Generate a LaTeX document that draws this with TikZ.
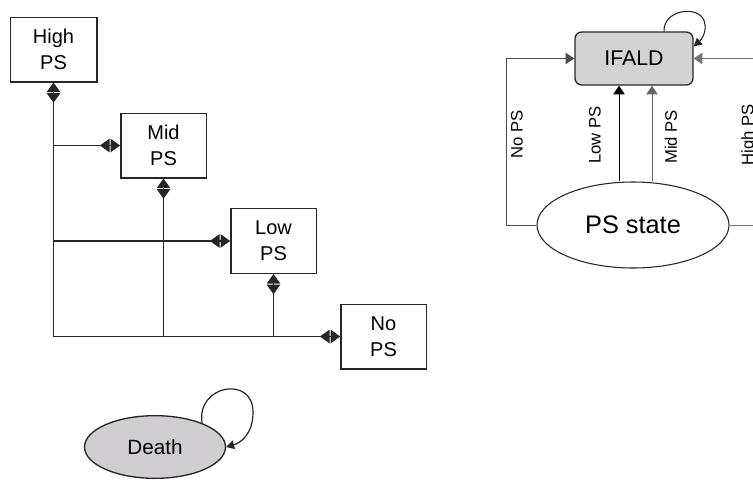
\documentclass[tikz,border=0pt]{standalone}
\usepackage{fontspec}
\setmainfont{Liberation Sans}
\usetikzlibrary{arrows.meta,shapes.geometric,calc}
\definecolor{boxgray}{HTML}{D3D3D3}
\definecolor{deathgray}{HTML}{D0CED0}
\begin{document}
\begin{tikzpicture}[x=0.75pt,y=-0.75pt,
  box/.style={draw=black!85,line width=1pt,fill=white,minimum width=64pt,minimum height=48.5pt,
    inner sep=0pt,align=center,font=\fontsize{15}{19.5}\selectfont},
  dbl/.style={draw=black!85,line width=1pt,
    -{Triangle[reversed,length=7.2pt,width=10pt,sep=0.8pt]Triangle[length=7.2pt,width=10pt]}},
  loopline/.style={draw=black!85,line width=0.9pt,-{Triangle[length=6pt,width=6.5pt]}},
  rline/.style={draw=black!70,line width=0.6pt},
  rarrow/.style={-{Triangle[length=6.5pt,width=8.5pt]}},
  lab/.style={rotate=90,font=\fontsize{12.5}{14}\selectfont,inner sep=0pt}]
\useasboundingbox (0,0) rectangle (753,479);
\clip (0,0) rectangle (753,479);

% ---------- left diagram ----------
\node[box,minimum width=65pt] (high) at (53.5,49.5) {High\\PS};
\node[box] (mid) at (163.5,145.5) {Mid\\PS};
\node[box] (low) at (273.5,241) {Low\\PS};
\node[box] (no) at (383.5,336.5) {No\\PS};

\draw[dbl] (high.south |- no.west) -- (high.south);
\draw[dbl] (high.south |- mid.west) -- (mid.west);
\draw[dbl] (high.south |- low.west) -- (low.west);
\draw[dbl] (high.south |- no.west) -- (no.west);
\draw[dbl] (mid.south |- no.west) -- (mid.south);
\draw[dbl] (low.south |- no.west) -- (low.south);

% Death
\node[ellipse,draw=black!85,line width=1pt,fill=deathgray,minimum width=105.75pt,minimum height=47pt,
  inner sep=0pt,font=\fontsize{15.5}{18}\selectfont] (death) at (155,447) {Death};
\draw[loopline] (death.27) .. controls (196,385) and (253,375) .. (253,412)
  .. controls (253,435) and (240,443) .. (death.east);

% ---------- right diagram ----------
\node[draw=black!85,line width=1pt,fill=boxgray,rounded corners=5pt,minimum width=88.5pt,
  minimum height=39.75pt,inner sep=0pt,font=\fontsize{16}{18}\selectfont] (ifald) at (634,58.5) {IFALD};
\node[ellipse,draw=black!85,line width=0.8pt,fill=white,minimum width=144pt,minimum height=64.5pt,
  inner sep=0pt,font=\fontsize{19}{22}\selectfont] (ps) at (633,225) {PS state};

\draw[loopline,line width=0.8pt] ($(ifald.north)+(30,0)$) .. controls (663,8) and (704,4) .. (705,25)
  .. controls (706,34) and (701,40) .. ($(ifald.north east)+(0,15)$);

\coordinate (lc) at (506,225);
\coordinate (rc) at (770,225);
\coordinate (lowx) at (619,0);
\coordinate (midx) at (652,0);

\draw[rline,rarrow] (ps.west) -- (lc) |- (ifald.west);
\draw[rline,draw=black!55,rarrow] (ps.east) -- (rc) |- (ifald.east);
\draw[rline,draw=black,line width=0.7pt,rarrow] (ps.north -| lowx) -- (ifald.south -| lowx);
\draw[rline,draw=black!60,rarrow] (ps.north -| midx) -- (ifald.south -| midx);

\node[lab] (lno) at (517,134) {No PS};
\node[lab] (llow) at (595,135) {Low PS};
\node[lab] (lmid) at (671,137) {Mid PS};
\node[lab] (lhigh) at (749,135) {High PS};
\end{tikzpicture}
\end{document}
